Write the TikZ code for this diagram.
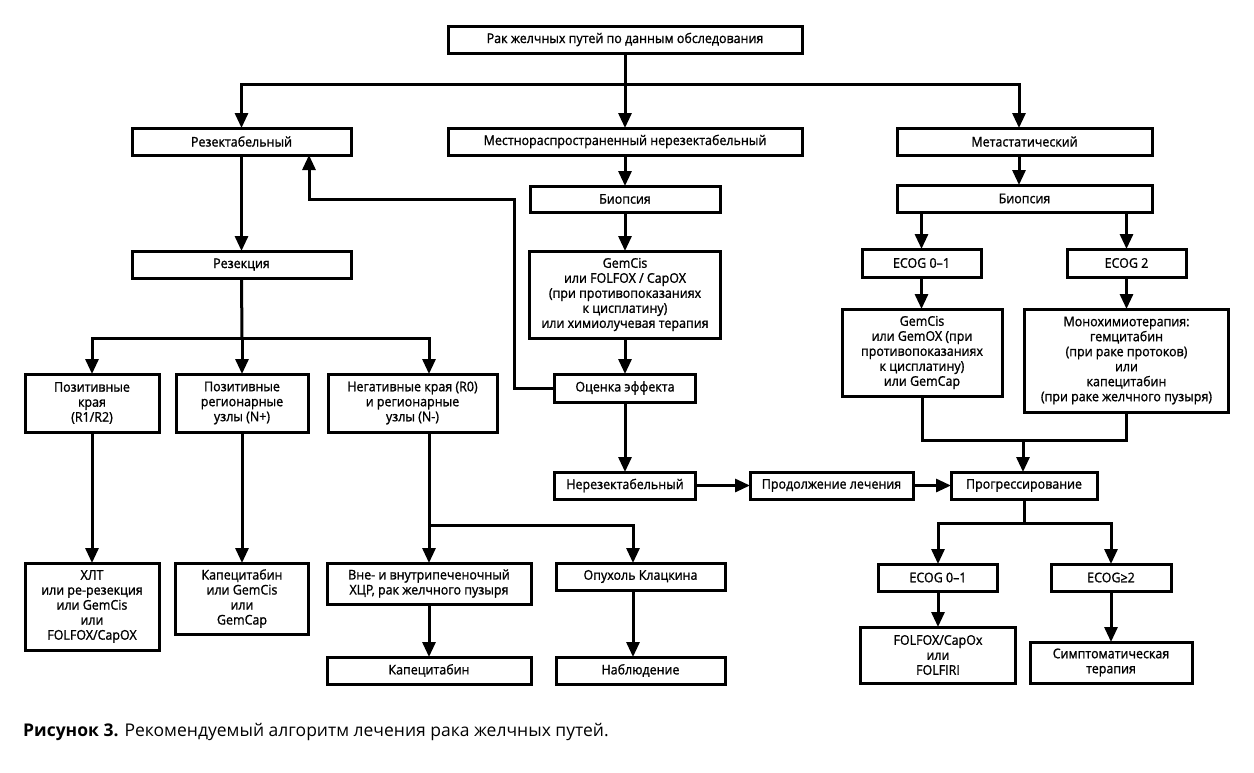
\documentclass[tikz,border=0pt]{standalone}
\usepackage{fontspec}
\setmainfont{Open Sans}
\newfontfamily\boxfont[FakeStretch=0.93,FakeBold=1.2]{Open Sans}
\usetikzlibrary{arrows.meta}
\begin{document}
\begin{tikzpicture}[x=1pt,y=-1pt,
  box/.style={draw,line width=3pt,inner sep=0pt,outer sep=0pt,align=center,
    font=\boxfont\fontsize{13.4}{15}\selectfont,fill=white},
  ln/.style={line width=3pt},
  arr/.style={line width=3pt,-{Triangle[length=15pt,width=13pt]}},
  captext/.style={font=\fontsize{17.5}{20}\selectfont,anchor=base west,inner sep=0pt}]
\fill[white] (0,0) rectangle (1254,772);
\useasboundingbox (0,0) rectangle (1254,772);
% nodes
\node[box,minimum width=354,minimum height=27] (top) at (625,39.5) {Рак желчных путей по данным обследования};
\node[box,minimum width=219,minimum height=27] (res) at (241.5,141.5) {Резектабельный};
\node[box,minimum width=354,minimum height=27] (loc) at (625,141.5) {Местнораспространенный нерезектабельный};
\node[box,minimum width=255,minimum height=27] (met) at (1024.5,141.5) {Метастатический};
\node[box,minimum width=190,minimum height=26] (bio1) at (625,199) {Биопсия};
\node[box,minimum width=255,minimum height=27] (bio2) at (1024.5,198.5) {Биопсия};
\node[box,minimum width=219,minimum height=27] (rsk) at (241.5,264.5) {Резекция};
\node[box,minimum width=191,minimum height=87] (gc1) at (625,294.5) {GemCis\\или FOLFOX / CapOX\\(при противопоказаниях\\к цисплатину)\\или химиолучевая терапия};
\node[box,minimum width=119,minimum height=28] (ecogA) at (921.5,263) {ECOG 0–1};
\node[box,minimum width=119,minimum height=28] (ecogB) at (1126.5,263) {ECOG 2};
\node[box,minimum width=160,minimum height=87] (gc2) at (922,352.5) {GemCis\\или GemOX (при\\противопоказаниях\\к цисплатину)\\или GemCap};
\node[box,minimum width=204,minimum height=103] (mono) at (1126.5,360.5) {Монохимиотерапия:\\гемцитабин\\(при раке протоков)\\или\\капецитабин\\(при раке желчного пузыря)};
\node[box,minimum width=134,minimum height=58] (pos1) at (92,403) {Позитивные\\края\\(R1/R2)};
\node[box,minimum width=132,minimum height=58] (pos2) at (242,403) {Позитивные\\регионарные\\узлы (N+)};
\node[box,minimum width=169,minimum height=58] (neg) at (412.5,403) {Негативные края (R0)\\и регионарные\\узлы (N-)};
\node[box,minimum width=141,minimum height=28] (ocen) at (625,388) {Оценка эффекта};
\node[box,minimum width=141,minimum height=27] (nerez) at (625,485.5) {Нерезектабельный};
\node[box,minimum width=163,minimum height=27] (prod) at (831.5,485.5) {Продолжение лечения};
\node[box,minimum width=146,minimum height=27] (prog) at (1024,485.5) {Прогрессирование};
\node[box,minimum width=134,minimum height=87] (hlt) at (92,606.5) {ХЛТ\\или ре-резекция\\или GemCis\\или\\FOLFOX/CapOX};
\node[box,minimum width=133,minimum height=71] (kap1) at (242,598.5) {Капецитабин\\или GemCis\\или\\GemCap};
\node[box,minimum width=204,minimum height=41] (vne) at (429,583.5) {Вне- и внутрипеченочный\\ХЦР, рак желчного пузыря};
\node[box,minimum width=169,minimum height=27] (klatz) at (640.5,576.5) {Опухоль Клацкина};
\node[box,minimum width=204,minimum height=27] (kap2) at (429,670.5) {Капецитабин};
\node[box,minimum width=169,minimum height=27] (nabl) at (640.5,670.5) {Наблюдение};
\node[box,minimum width=119,minimum height=27] (ecogC) at (938,577.5) {ECOG 0–1};
\node[box,minimum width=120,minimum height=27] (ecogD) at (1111,577.5) {ECOG≥2};
\node[box,minimum width=155,minimum height=56] (folfox) at (938,655) {FOLFOX/CapOx\\или\\FOLFIRI};
\node[box,minimum width=162,minimum height=41] (symp) at (1111,662.5) {Симптоматическая\\терапия};
\node[captext] (caption) at (23,736) {\textbf{Рисунок 3.} Рекомендуемый алгоритм лечения рака желчных путей.};
% coordinates
\coordinate (j1) at (625,84);
\coordinate (mx) at (1019,0);
\coordinate (r1) at (242,338);
\coordinate (fb1) at (514,199);
\coordinate (fb2) at (309,199);
\coordinate (n1) at (429,525);
\coordinate (kx) at (633,0);
\coordinate (m1) at (1023,440);
\coordinate (p1) at (1024,523);
% connectors
\draw[arr] (top.south) -- (loc.north);
\draw[arr] (j1) -| (res.north);
\draw[arr] (j1) -| (met.north -| mx);
\draw[arr] (loc.south) -- (bio1.north);
\draw[arr] (met.south -| mx) -- (bio2.north -| mx);
\draw[arr] (res.south) -- (rsk.north);
\draw[ln] (rsk.south) -- (r1);
\draw[arr] (r1) -| (pos1.north);
\draw[arr] (r1) -- (pos2.north);
\draw[arr] (r1) -| (neg.north -| vne.north);
\draw[arr] (bio1.south) -- (gc1.north);
\draw[arr] (gc1.south) -- (ocen.north);
\draw[arr] (ocen.south) -- (nerez.north);
\draw[arr] (ocen.west) -| (fb1) -- (fb2) -- (res.south -| fb2);
\draw[arr] (bio2.south -| ecogA.north) -- (ecogA.north);
\draw[arr] (bio2.south -| ecogB.north) -- (ecogB.north);
\draw[arr] (ecogA.south) -- (ecogA.south |- gc2.north);
\draw[arr] (ecogB.south) -- (ecogB.south |- mono.north);
\draw[ln] (gc2.south) |- (m1);
\draw[ln] (mono.south) |- (m1);
\draw[arr] (m1) -- (m1 |- prog.north);
\draw[arr] (nerez.east) -- (prod.west);
\draw[arr] (prod.east) -- (prog.west);
\draw[ln] (prog.south) -- (p1);
\draw[arr] (p1) -| (ecogC.north);
\draw[arr] (p1) -| (ecogD.north);
\draw[arr] (ecogC.south) -- (folfox.north);
\draw[arr] (ecogD.south) -- (symp.north);
\draw[arr] (pos1.south) -- (hlt.north);
\draw[arr] (pos2.south) -- (kap1.north);
\draw[arr] (neg.south -| vne.north) -- (vne.north);
\draw[arr] (n1) -| (klatz.north -| kx);
\draw[arr] (klatz.south -| kx) -- (nabl.north -| kx);
\draw[arr] (vne.south) -- (kap2.north);
\end{tikzpicture}
\end{document}
